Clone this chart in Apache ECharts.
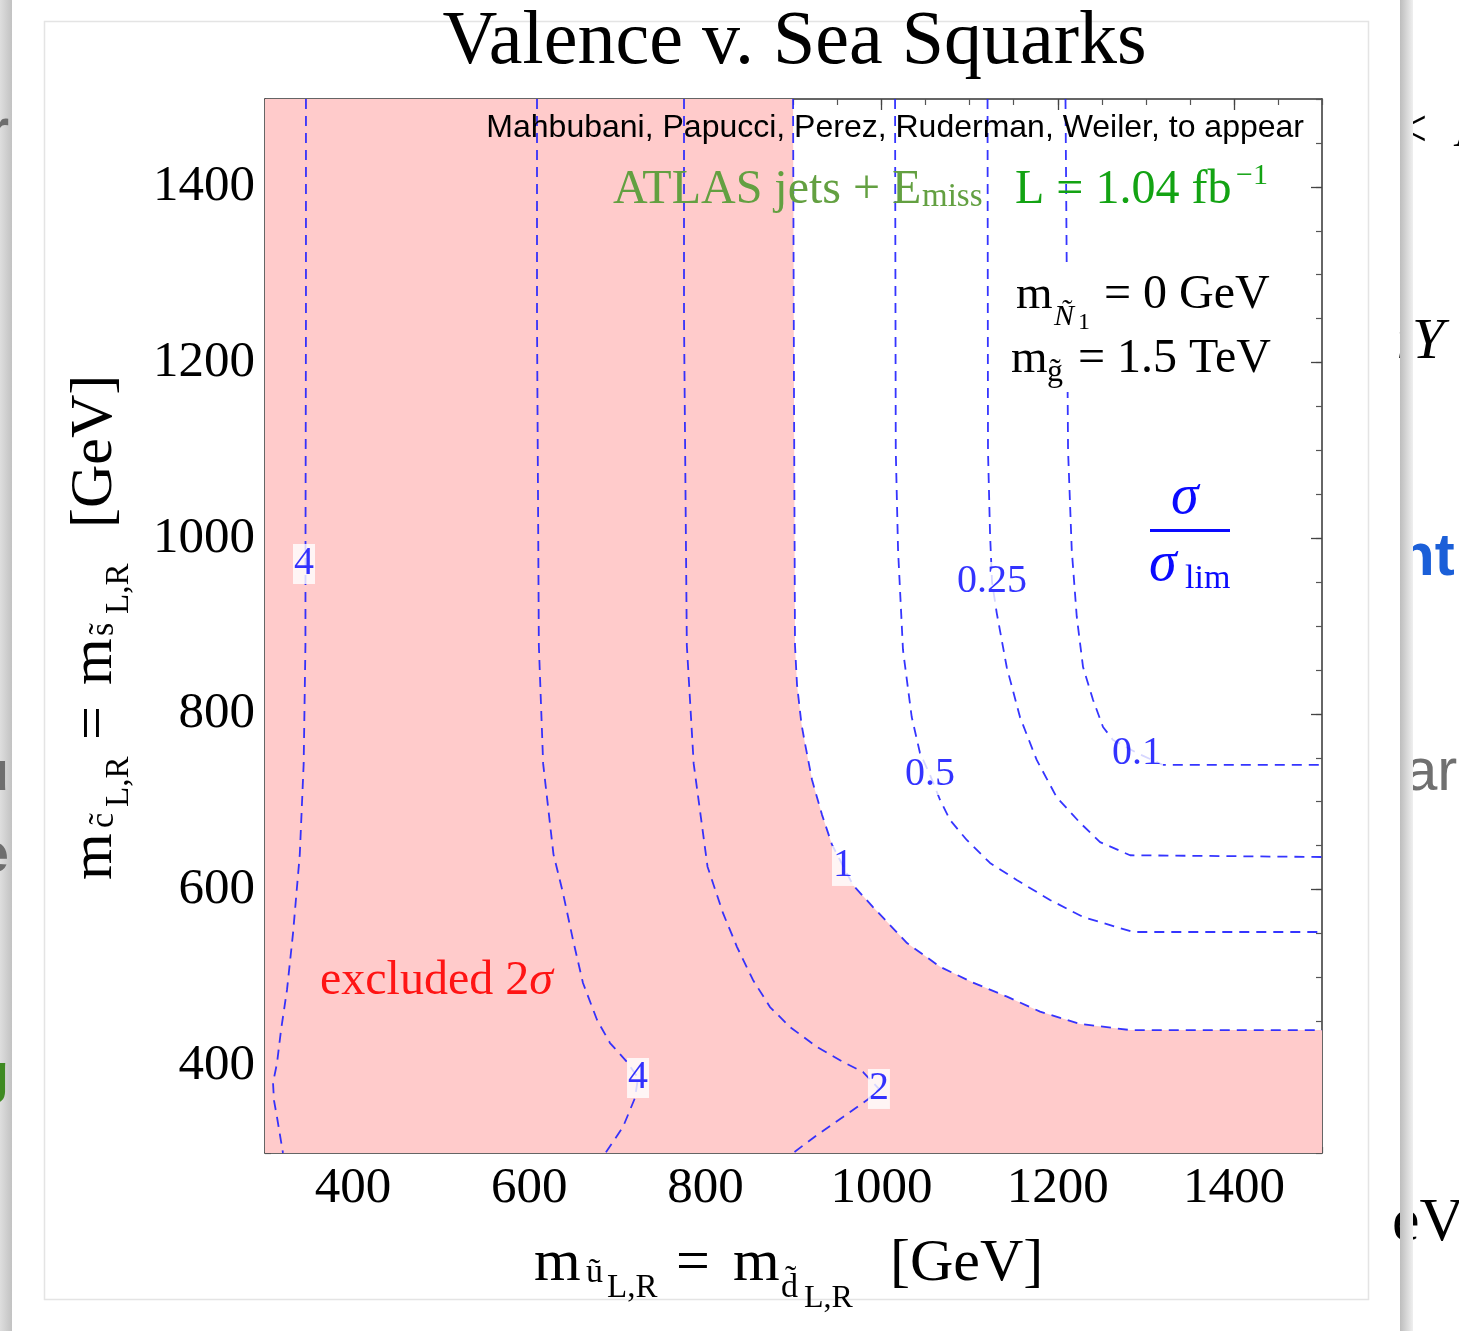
<!DOCTYPE html>
<html>
<head>
<meta charset="utf-8">
<script src="https://cdn.jsdelivr.net/npm/echarts@6/dist/echarts.min.js"></script>
<style>
html,body{margin:0;padding:0;background:#fff;}
#main{width:1459px;height:1331px;}
</style>
</head>
<body>
<div id="main"></div>
<script>
// ---------------- DATA ----------------
const xTickLabels = [400, 600, 800, 1000, 1200, 1400];
const yTickLabels = [400, 600, 800, 1000, 1200, 1400];

// contour lines of sigma / sigma_lim  (x = m_u = m_d, y = m_c = m_s)  [GeV]
const contour4a = [[346.5,1500],[346.5,1250],[346,1000],[345.9,878],[343.9,743],[339.5,640],[331.8,550],[325,486],[318.2,440],[313.6,402],[309.1,380],[310.2,360],[313.6,341],[320.4,300]];
const contour4b = [[608.8,1500],[608.8,1250],[610.9,878],[615.8,743],[627.5,640],[638.3,596],[649.7,542.5],[661,493.6],[677,451.4],[691.7,425.2],[711,403.6],[723.5,385.4],[720,362.6],[706.4,329.6],[686.5,300]];
const contour2  = [[775.7,1500],[775.7,1250],[778.9,878],[786.7,743],[802.4,626],[820,573],[835.9,534.5],[854,497],[873.3,466.2],[896,443.5],[926.7,420.7],[956.2,403.6],[979,392.2],[997,372.9],[983.5,360.3],[956.2,341],[926.7,320.5],[899.5,300]];
const contour1  = [[899.5,1500],[900.6,1157],[901.7,878],[904,833],[909.1,788],[913.1,766],[921,725],[932.4,685],[943.7,651],[956.2,627],[967.6,605],[990.3,580],[1028.9,539],[1066.4,512],[1103.8,494],[1142.4,478],[1179.9,461],[1225.3,447],[1282,440],[1500,440]];
const contour05 = [[1015.3,1500],[1016.1,1100],[1018.7,986.5],[1024.3,872.7],[1034.2,796.4],[1043.6,755.4],[1055,730.4],[1066.4,701.9],[1077.7,679.1],[1096.7,656.4],[1123.1,630.2],[1153.4,610.8],[1191.2,588.1],[1228.7,568.7],[1251.4,561.9],[1285.5,551.6],[1500,551.6]];
const contour025 = [[1120.3,1500],[1120.8,1100],[1123.1,1006],[1125.4,950],[1130.7,915],[1142.1,853],[1157.2,796],[1176.1,747.5],[1198.8,705],[1225.3,676],[1248,654],[1282.1,639],[1500,637]];
const contour01 = [[1208.8,1500],[1211.7,1100],[1215.9,986.5],[1221.6,910.3],[1228.7,853.3],[1240.1,815.8],[1251.4,785],[1262.8,770.2],[1290,755.4],[1319.5,741.8],[1500,741.8]];

// contour value labels: [x, y, text]
const contourLabels = [[344.3,970.6,'4'],[723.5,385.4,'4'],[997,372.9,'2'],[956.2,626.8,'1'],[1055,730.4,'0.5'],[1125.4,950.1,'0.25'],[1290,755.4,'0.1']];

// excluded (2 sigma) region: below / left of the sigma/sigma_lim = 1 contour
const excludedCorners = [[1500,300],[300,300],[300,1500]];

// ---------------- CHART ----------------
const SERIF = 'Liberation Serif';
const SANS = 'Liberation Sans';
const chart = echarts.init(document.getElementById('main'), null, {renderer:'canvas'});

function txt(x, base, text, size, o) {
  o = o || {};
  const fam = o.family || SERIF;
  const k = (o.k !== undefined) ? o.k : (fam === SANS ? 0.28 : 0.27);
  const font = (o.italic ? 'italic ' : '') + (o.bold ? 'bold ' : '') + size + 'px "' + fam + '"';
  return {
    type: 'text', x: x, y: base - k * size, z: (o.z !== undefined ? o.z : 100), silent: true,
    style: { text: text, fill: o.color || '#000', font: font,
      textAlign: o.align || 'left', align: o.align || 'left',
      textVerticalAlign: 'middle', verticalAlign: 'middle' }
  };
}

const blueLine = 'rgba(36,36,255,0.92)';
const dash = [10, 7];
const contours = [contour4a, contour4b, contour2, contour1, contour05, contour025, contour01];

function xAxisDef(pos, major) {
  return {
    type: 'value', position: pos, min: 300, max: 1500,
    interval: major ? undefined : 50,
    axisLine: { show: !major, onZero: false, lineStyle: { color: '#333', width: 1.5 } },
    axisTick: major ? { show: true, inside: true, length: 11, customValues: xTickLabels, lineStyle: { color: '#444', width: 1.3 } }
                    : { show: true, inside: true, length: 6, lineStyle: { color: '#555', width: 1.2 } },
    axisLabel: (pos === 'bottom' && !major) ? { show: true, customValues: xTickLabels, margin: 10, fontSize: 51, fontFamily: SERIF, color: '#000', formatter: v => String(v) } : { show: false },
    splitLine: { show: false }, axisPointer: { show: false }
  };
}
function yAxisDef(pos, major) {
  return {
    type: 'value', position: pos, min: 300, max: 1500,
    interval: major ? undefined : 50,
    axisLine: { show: !major, onZero: false, lineStyle: { color: '#333', width: 1.5 } },
    axisTick: major ? { show: true, inside: true, length: 11, customValues: yTickLabels, lineStyle: { color: '#444', width: 1.3 } }
                    : { show: true, inside: true, length: 6, lineStyle: { color: '#555', width: 1.2 } },
    axisLabel: (pos === 'left' && !major) ? { show: true, customValues: yTickLabels, margin: 10, fontSize: 51, fontFamily: SERIF, color: '#000', formatter: v => String(v) } : { show: false },
    splitLine: { show: false }, axisPointer: { show: false }
  };
}

const xNameParts = [
  [534, 1280, 'm', 60], [586, 1282, 'u\u0303', 34], [607, 1297, 'L,R', 33],
  [676, 1280, '=', 60], [733, 1280, 'm', 60], [781, 1297, 'd\u0303', 34], [804, 1307, 'L,R', 32],
  [890, 1280, '[GeV]', 60]
];
const yNameParts = [
  [0, 0, 'm', 60], [52, 2, 'c\u0303', 34], [73, 17, 'L,R', 33],
  [140, 0, '=', 60], [195, 0, 'm', 60], [244, 2, 's\u0303', 34], [266, 17, 'L,R', 33],
  [352, 0, '[GeV]', 60]
];

function grad(c0, c1) {
  return new echarts.graphic.LinearGradient(0, 0, 1, 0, [{ offset: 0, color: c0 }, { offset: 1, color: c1 }]);
}

const graphics = [
  // slide background pieces
  { type: 'rect', z: 0, silent: true, shape: { x: 44.5, y: 21.5, width: 1324, height: 1278 }, style: { fill: 'none', stroke: '#e4e4e4', lineWidth: 1.5 } },
  { type: 'rect', z: 4, silent: true, shape: { x: 0, y: 0, width: 12, height: 1331 }, style: { fill: grad('#dedede', '#c2c2c2') } },
  txt(9, 148, 'r', 56, { family: SANS, color: '#6e6e6e', align: 'right', bold: true, z: 5 }),
  txt(9, 790, 'u', 56, { family: SANS, color: '#6e6e6e', align: 'right', bold: true, z: 5 }),
  txt(9, 872, 'e', 56, { family: SANS, color: '#6e6e6e', align: 'right', bold: true, z: 5 }),
  txt(9, 1092, 'g', 56, { family: SANS, color: '#3f8a22', align: 'right', bold: true, z: 5 }),
  txt(1398, 146, '<  \u039B', 52, { z: 5 }),
  txt(1396, 358, '\u0131Y', 58, { italic: true, z: 5 }),
  txt(1398, 575, 'nt', 60, { family: SANS, color: '#1b5fd8', bold: true, z: 5 }),
  txt(1404, 790, 'ar', 60, { family: SANS, color: '#707070', z: 5 }),
  txt(1392, 1240, 'eV', 62, { z: 5 }),
  { type: 'rect', z: 6, silent: true, shape: { x: 1400, y: 0, width: 13, height: 1331 }, style: { fill: grad('#bdbdbd', '#efefef') } },

  // title
  txt(794.5, 64, 'Valence v. Sea Squarks', 76, { align: 'center' }),

  // annotations inside plot
  txt(1304, 137, 'Mahbubani, Papucci, Perez, Ruderman, Weiler, to appear', 32, { family: SANS, align: 'right' }),
  txt(613, 203, 'ATLAS jets + E', 48, { color: '#63a041' }),
  txt(922, 206, 'miss', 33, { color: '#63a041' }),
  txt(1015, 203, 'L = 1.04 fb', 48, { color: '#13a313' }),
  txt(1236, 184, '\u22121', 30, { color: '#13a313' }),

  { type: 'rect', z: 50, silent: true, shape: { x: 1008, y: 268, width: 274, height: 124 }, style: { fill: '#fff' } },
  txt(1016, 308, 'm', 47),
  txt(1054, 325, '\u00D1', 30, { italic: true }),
  txt(1078, 329, '1', 24),
  txt(1104, 308, '= 0 GeV', 48),
  txt(1011, 372, 'm', 47),
  txt(1047, 381, 'g\u0303', 32),
  txt(1078, 372, '= 1.5 TeV', 48),

  // sigma / sigma_lim legend
  txt(1171, 513, '\u03C3', 56, { italic: true, color: '#0a0aff' }),
  { type: 'rect', z: 100, silent: true, shape: { x: 1150, y: 529, width: 80, height: 3 }, style: { fill: '#0a0aff' } },
  txt(1149, 580, '\u03C3', 56, { italic: true, color: '#0a0aff' }),
  txt(1185, 588, 'lim', 34, { color: '#0a0aff' }),

  // excluded label
  {
    type: 'text', x: 320, y: 994 - 0.27 * 48, z: 100, silent: true,
    style: {
      text: '{n|excluded 2}{i|\u03C3}', fill: '#ff1414', font: '48px "' + SERIF + '"',
      textVerticalAlign: 'middle', verticalAlign: 'middle',
      rich: { n: { fontFamily: SERIF, fontSize: 48, fill: '#ff1414', color: '#ff1414' },
              i: { fontFamily: SERIF, fontSize: 48, fontStyle: 'italic', fill: '#ff1414', color: '#ff1414' } }
    }
  },
  // axis names
  ...xNameParts.map(p => txt(p[0], p[1], p[2], p[3])),
  { type: 'group', x: 111, y: 880, rotation: Math.PI / 2, z: 100,
    children: yNameParts.map(p => txt(p[0], p[1], p[2], p[3])) }
];

const option = {
  backgroundColor: '#ffffff',
  animation: false,
  grid: { left: 265, top: 99, width: 1057, height: 1054, containLabel: false, outerBoundsMode: 'none', show: false },
  xAxis: [xAxisDef('bottom', false), xAxisDef('bottom', true), xAxisDef('top', false), xAxisDef('top', true)],
  yAxis: [yAxisDef('left', false), yAxisDef('left', true), yAxisDef('right', false), yAxisDef('right', true)],
  series: [
    {
      type: 'custom', name: 'excluded 2σ', coordinateSystem: 'cartesian2d', xAxisIndex: 0, yAxisIndex: 0,
      silent: true, clip: true, z: 1, data: [[300, 300]],
      renderItem: function (params, api) {
        if (params.dataIndex !== 0) return null;
        const pts = contour1.concat(excludedCorners).map(p => api.coord(p));
        return { type: 'polygon', shape: { points: pts }, style: { fill: '#ffcbcb' } };
      }
    },
    ...contours.map((c, i) => ({
      type: 'line', name: 'c' + i, data: c, xAxisIndex: 0, yAxisIndex: 0, z: 3,
      symbol: 'none', showSymbol: false, silent: true, smooth: false, clip: true,
      lineStyle: { color: blueLine, width: 1.8, type: dash }
    })),
    {
      type: 'scatter', name: 'labels', data: contourLabels, xAxisIndex: 0, yAxisIndex: 0, z: 6, silent: true,
      symbolSize: 1, itemStyle: { color: 'rgba(0,0,0,0)' },
      label: { show: true, position: 'inside', formatter: p => p.data[2], color: '#0000ff',
        fontFamily: SERIF, fontSize: 40, backgroundColor: '#ffffff', padding: [0, 1], lineHeight: 40 }
    }
  ],
  graphic: { elements: graphics }
};
chart.setOption(option);
</script>
</body>
</html>
